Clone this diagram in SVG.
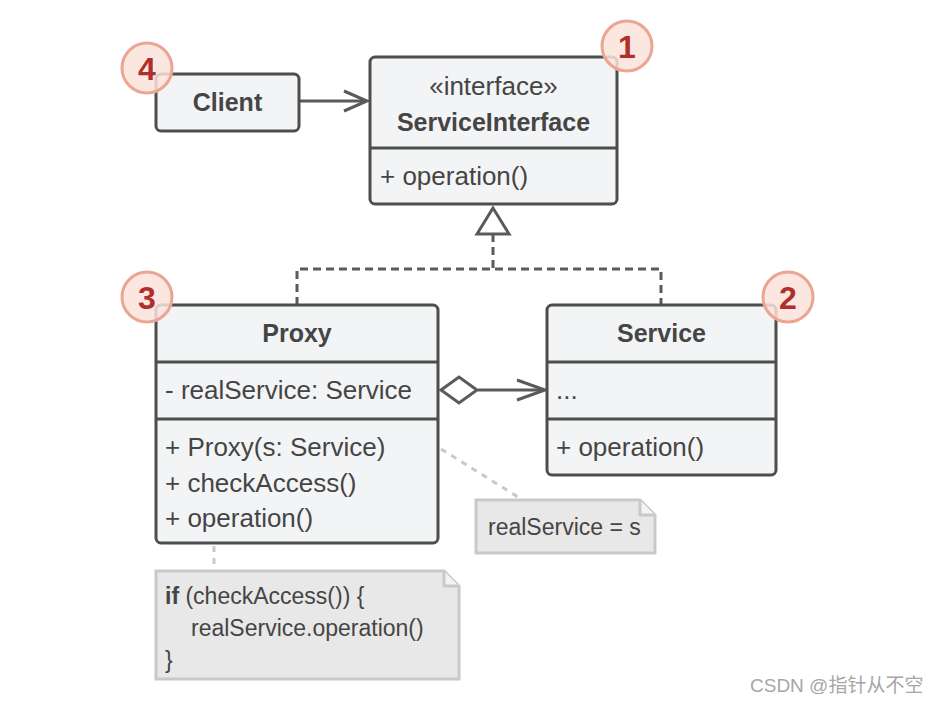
<svg xmlns="http://www.w3.org/2000/svg" width="937" height="703" viewBox="0 0 937 703">
<defs>
<style>
.box{fill:#f3f4f5;stroke:#4d4d4d;stroke-width:3}
.div{stroke:#4d4d4d;stroke-width:3}
.t{font-family:"Liberation Sans",Arial,sans-serif;font-size:26px;fill:#454545}
.b{font-family:"Liberation Sans",Arial,sans-serif;font-size:25px;font-weight:bold;fill:#454545}
.n{font-family:"Liberation Sans",Arial,sans-serif;font-size:23px;fill:#454545}
.note{fill:#e8e8e8;stroke:#c9c9c9;stroke-width:3}
.fold{fill:#f3f3f3;stroke:#c9c9c9;stroke-width:3;stroke-linejoin:round}
.line{fill:none;stroke:#5a5a5a;stroke-width:3}
.dash{fill:none;stroke:#5a5a5a;stroke-width:3;stroke-dasharray:8 5}
.dot{fill:none;stroke:#c9c9c9;stroke-width:3;stroke-dasharray:6 6}
.badge{fill:#fbe2da;fill-opacity:0.85;stroke:#eba693;stroke-width:3}
.bn{font-family:"Liberation Sans",Arial,sans-serif;font-size:32px;font-weight:bold;fill:#b02e2c;text-anchor:middle}
.wm{font-family:"Liberation Sans","Noto Sans CJK SC",sans-serif;font-size:19px;fill:#a6a6a6}
</style>
</defs>
<rect width="937" height="703" fill="#ffffff"/>
<g id="connectors">
<line class="line" x1="299" y1="101" x2="366" y2="101"/>
<polyline class="line" points="344,91 367,101 344,111" stroke-linejoin="miter"/>
<path class="dash" d="M493,234 V269 M297,305 V269 H661 V305"/>
<polygon class="line" points="493,208 477,234 509,234" fill="#ffffff"/>
<line class="line" x1="478" y1="390" x2="544" y2="390"/>
<polyline class="line" points="517,380 545,390 517,400"/>
<polygon class="line" points="441,390 459,377 477,390 459,403" fill="#ffffff"/>
<line class="dot" x1="441" y1="449" x2="518" y2="497"/>
<line class="dot" x1="214" y1="546" x2="214" y2="570"/>
</g>
<g id="client">
<rect class="box" x="156" y="74" width="143" height="57" rx="5"/>
<text class="b" x="227.5" y="111" text-anchor="middle">Client</text>
</g>
<g id="service-interface">
<rect class="box" x="370" y="57" width="247" height="147" rx="5"/>
<line class="div" x1="370" y1="148" x2="617" y2="148"/>
<text class="t" x="493.5" y="95" text-anchor="middle">«interface»</text>
<text class="b" x="493.5" y="131" text-anchor="middle">ServiceInterface</text>
<text class="t" x="380" y="185">+ operation()</text>
</g>
<g id="proxy">
<rect class="box" x="156" y="305" width="282" height="238" rx="5"/>
<line class="div" x1="156" y1="362" x2="438" y2="362"/>
<line class="div" x1="156" y1="419" x2="438" y2="419"/>
<text class="b" x="297" y="342" text-anchor="middle">Proxy</text>
<text class="t" x="165" y="399">- realService: Service</text>
<text class="t" x="165" y="456">+ Proxy(s: Service)</text>
<text class="t" x="165" y="492">+ checkAccess()</text>
<text class="t" x="165" y="527">+ operation()</text>
</g>
<g id="service">
<rect class="box" x="547" y="305" width="229" height="170" rx="5"/>
<line class="div" x1="547" y1="362" x2="776" y2="362"/>
<line class="div" x1="547" y1="419" x2="776" y2="419"/>
<text class="b" x="661.5" y="342" text-anchor="middle">Service</text>
<text class="t" x="556" y="399">...</text>
<text class="t" x="556" y="456">+ operation()</text>
</g>
<g id="note-realservice">
<path class="note" d="M476,500 H640 L655,515 V553 H476 Z"/>
<path class="fold" d="M640,500 V515 H655"/>
<text class="n" x="488" y="535">realService = s</text>
</g>
<g id="note-operation">
<path class="note" d="M156,571 H444 L459,586 V679 H156 Z"/>
<path class="fold" d="M444,571 V586 H459"/>
<text class="n" x="165" y="604"><tspan font-weight="bold">if</tspan> (checkAccess()) {</text>
<text class="n" x="191" y="636">realService.operation()</text>
<text class="n" x="165" y="668">}</text>
</g>
<g id="badge-1">
<circle class="badge" cx="627" cy="46" r="25"/>
<text class="bn" x="627" y="57.5">1</text>
</g>
<g id="badge-2">
<circle class="badge" cx="788" cy="297" r="25"/>
<text class="bn" x="788" y="308.5">2</text>
</g>
<g id="badge-3">
<circle class="badge" cx="147" cy="297" r="25"/>
<text class="bn" x="147" y="308.5">3</text>
</g>
<g id="badge-4">
<circle class="badge" cx="147" cy="68" r="25"/>
<text class="bn" x="147" y="79.5">4</text>
</g>
<text class="wm" x="750" y="692">CSDN @指针从不空</text>
</svg>
